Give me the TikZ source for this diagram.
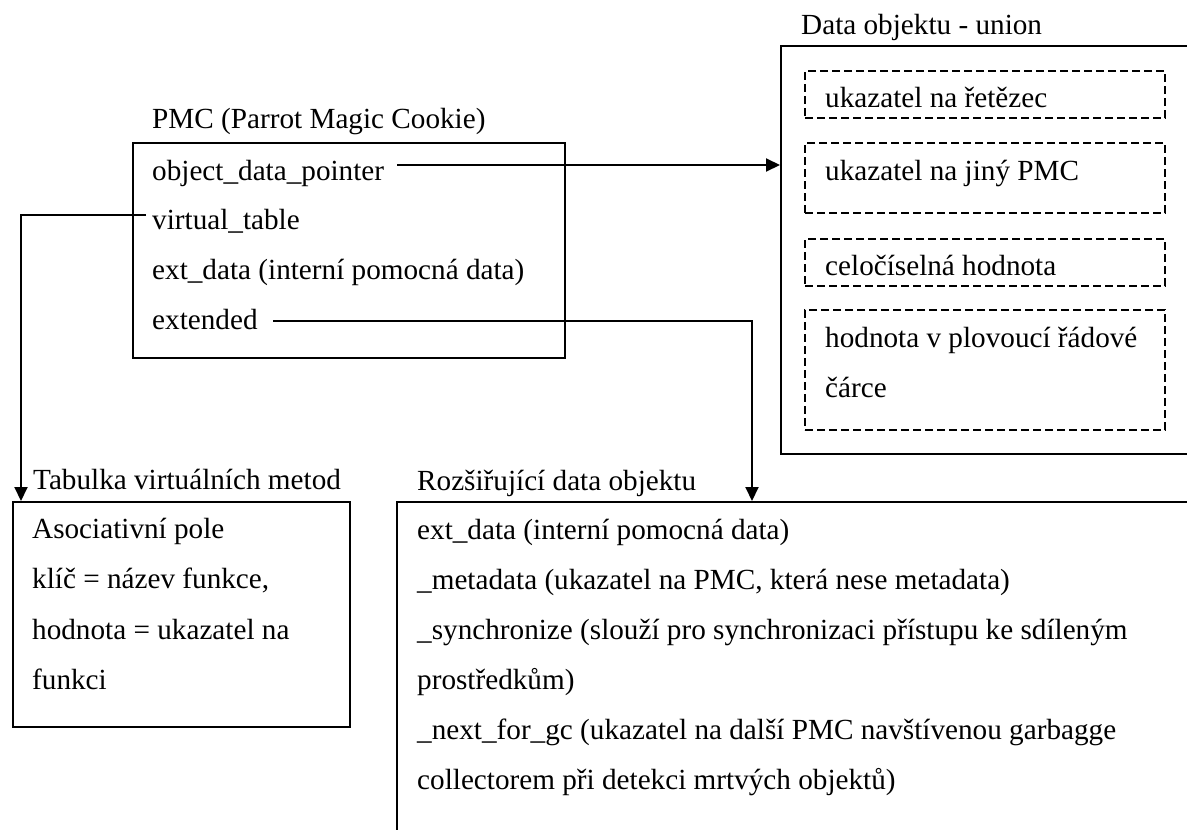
\documentclass[tikz,border=0pt]{standalone}
\usepackage{fontspec}
\setmainfont{Liberation Serif}
\usetikzlibrary{arrows.meta}
\tikzset{
  box/.style={draw, line width=2pt, rectangle, inner sep=0pt, anchor=north west},
  dbox/.style={box, dash pattern=on 8pt off 4pt},
  lbl/.style={anchor=base west, inner sep=0pt},
  conn/.style={line width=2pt},
  arr/.style={conn, -{Triangle[length=14pt,width=13pt]}},
}
\begin{document}
\begin{tikzpicture}[x=1pt,y=-1pt,font=\fontsize{29.2}{34}\selectfont]
\clip (0,0) rectangle (1187,830);
\fill[white] (0,0) rectangle (1187,830);

% PMC box
\node[lbl] (pmcT) at (152,128) {PMC (Parrot Magic Cookie)};
\node[box, minimum width=432pt, minimum height=215pt] (pmc) at (132,142) {};
\node[lbl] (odp) at (152,180) {object\_data\_pointer};
\node[lbl] (vt) at (152,229) {virtual\_table};
\node[lbl] (ed) at (152,279) {ext\_data (interní pomocná data)};
\node[lbl] (ex) at (152,329) {extended};

% Data objektu - union
\node[lbl] (unT) at (801,34) {Data objektu - union};
\node[box, minimum width=440pt, minimum height=408pt] (union) at (780,45) {};
\node[dbox, minimum width=360pt, minimum height=47pt] (d1) at (804,70) {};
\node[dbox, minimum width=360pt, minimum height=70pt] (d2) at (804,142) {};
\node[dbox, minimum width=360pt, minimum height=47pt] (d3) at (804,238) {};
\node[dbox, minimum width=360pt, minimum height=120pt] (d4) at (804,309) {};
\node[lbl] (u1) at (825,107) {ukazatel na řetězec};
\node[lbl] (u2) at (825,180) {ukazatel na jiný PMC};
\node[lbl] (u3) at (825,275) {celočíselná hodnota};
\node[lbl] (u4) at (825,347) {hodnota v plovoucí řádové};
\node[lbl] (u5) at (825,397) {čárce};

% Tabulka virtualnich metod
\node[lbl] (tabT) at (33,489) {Tabulka virtuálních metod};
\node[box, minimum width=337pt, minimum height=225pt] (tab) at (12,501) {};
\node[lbl] (t1) at (32,538) {Asociativní pole};
\node[lbl] (t2) at (32,588) {klíč = název funkce,};
\node[lbl] (t3) at (32,639) {hodnota = ukazatel na};
\node[lbl] (t4) at (32,689) {funkci};

% Rozsirujici data objektu
\node[lbl] (extT) at (417,490) {Rozšiřující data objektu};
\node[box, minimum width=820pt, minimum height=360pt] (ext) at (396,501) {};
\node[lbl] (e1) at (417,539) {ext\_data (interní pomocná data)};
\node[lbl] (e2) at (417,589) {\_metadata (ukazatel na PMC, která nese metadata)};
\node[lbl] (e3) at (417,639) {\_synchronize (slouží pro synchronizaci přístupu ke sdíleným};
\node[lbl] (e4) at (417,689) {prostředkům)};
\node[lbl] (e5) at (417,739) {\_next\_for\_gc (ukazatel na další PMC navštívenou garbagge};
\node[lbl] (e6) at (417,789) {collectorem při detekci mrtvých objektů)};

% connectors
\coordinate (odpS) at (397,165);
\draw[arr] (odpS) -- (union.west |- odpS);

\coordinate (vtS) at (146,215);
\coordinate (vtX) at (21,215);
\draw[arr] (vtS) -| (vtX |- tab.north);

\coordinate (exS) at (273,321);
\coordinate (exX) at (752,321);
\draw[arr] (exS) -| (exX |- ext.north);
\end{tikzpicture}
\end{document}
